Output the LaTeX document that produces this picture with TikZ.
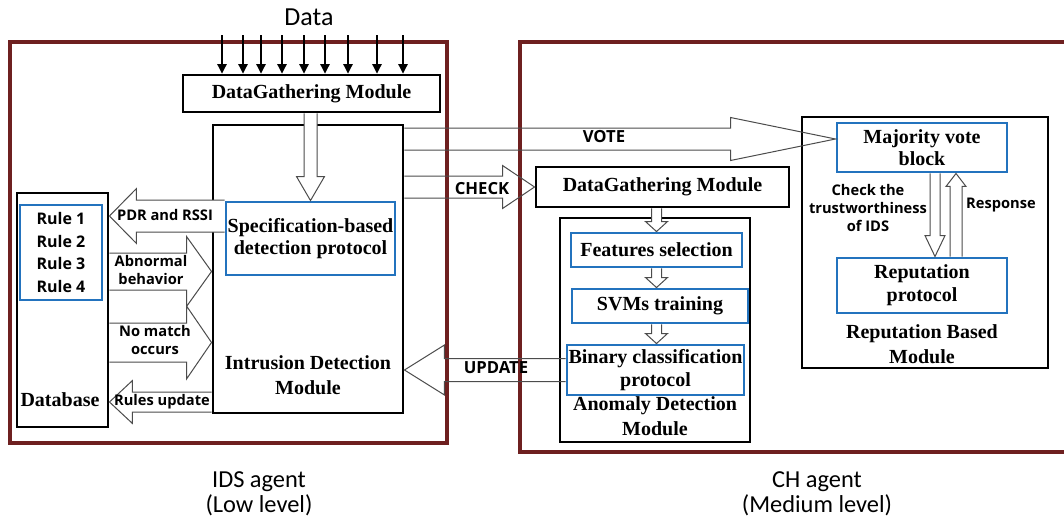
\documentclass[tikz,border=0pt]{standalone}
\usepackage{fontspec}
\setmainfont{Liberation Serif}
\newfontfamily\labfont{Open Sans}
\newfontfamily\calfont{Carlito}
\usetikzlibrary{calc,arrows.meta}
\definecolor{frameRed}{RGB}{110,32,32}
\definecolor{boxblue}{RGB}{35,115,190}
\newcommand\harr[6][]{%
  \path[barrow,draw=none,#1] ($(#2)+(0,#4)$) -- ($(#3)+(#6,#4)$) -- ($(#3)+(#6,#5)$) -- (#3) -- ($(#3)+(#6,-#5)$) -- ($(#3)+(#6,-#4)$) -- ($(#2)+(0,-#4)$) -- cycle;
  \draw[barrow,fill=none] ($(#2)+(0,#4)$) -- ($(#3)+(#6,#4)$) -- ($(#3)+(#6,#5)$) -- (#3) -- ($(#3)+(#6,-#5)$) -- ($(#3)+(#6,-#4)$) -- ($(#2)+(0,-#4)$);}
\newcommand\varr[6][]{%
  \path[barrow,draw=none,#1] ($(#2)+(#4,0)$) -- ($(#3)+(#4,#6)$) -- ($(#3)+(#5,#6)$) -- (#3) -- ($(#3)+(-#5,#6)$) -- ($(#3)+(-#4,#6)$) -- ($(#2)+(-#4,0)$) -- cycle;
  \draw[barrow,fill=none] ($(#2)+(#4,0)$) -- ($(#3)+(#4,#6)$) -- ($(#3)+(#5,#6)$) -- (#3) -- ($(#3)+(-#5,#6)$) -- ($(#3)+(-#4,#6)$) -- ($(#2)+(-#4,0)$);}
\begin{document}
\begin{tikzpicture}[x=0.75pt,y=-0.75pt,
  sz/.style 2 args={minimum width=#1*0.75pt,minimum height=#2*0.75pt},
  blk/.style={draw=black,line width=2.2pt,fill=white,inner sep=0pt},
  blu/.style={draw=boxblue,line width=2.2pt,fill=white,inner sep=0pt},
  mod/.style={font=\fontsize{15}{17}\selectfont\bfseries,align=center},
  modw/.style={font=\fontsize{15}{18.5}\selectfont\bfseries,align=center},
  lab/.style={font=\labfont\fontsize{11}{13.8}\selectfont\bfseries,align=center},
  big/.style={font=\labfont\fontsize{12.5}{15}\selectfont\bfseries},
  barrow/.style={draw=black!70,line width=0.75pt,fill=white,line join=miter},
  frame/.style={draw=frameRed,line width=3.2pt,inner sep=0pt},
  dataarr/.style={draw=black,line width=0.8pt,-{Triangle[width=7pt,length=7pt]}},
  agent/.style={font=\calfont\fontsize{18.3}{18.5}\selectfont,align=center}
]
\useasboundingbox (0,0) rectangle (1064,521);

% agent frames
\node[frame,sz={437}{401}] (idsframe) at (228.5,242.5) {};
\node[frame,sz={555}{410}] (chframe) at (797.5,247) {};

% IDS agent modules
\node[blk,sz={257}{37},mod] (dg1) at (311.5,93.5) {DataGathering Module};
\node[blk,sz={190}{288}] (idm) at (308,269) {};
\node[blu,sz={169}{73},mod] (spec) at (310.5,238.5) {Specification-based\\detection protocol};
\node[blk,sz={91}{234}] (db) at (62.5,310) {};
\node[blu,sz={82}{95},font=\labfont\fontsize{12}{17}\selectfont\bfseries,align=center] (rules) at (61,252.5) {Rule 1\\Rule 2\\Rule 3\\Rule 4};
\node[mod] (dbt) at (60,400) {Database};
\node[modw] (idmt) at (308,375) {Intrusion Detection\\Module};

% CH agent modules
\node[blk,sz={253}{40},mod] (dg2) at (662.5,187) {DataGathering Module};
\node[blk,sz={190}{224}] (adm) at (655,330) {};
\node[blu,sz={171}{34},mod] (feat) at (656.5,250) {Features selection};
\node[blu,sz={176}{34},mod] (svm) at (660,306) {SVMs training};
\node[blu,sz={177}{50},mod] (bin) at (655.5,370) {Binary classification\\protocol};
\node[modw] (admt) at (655,416) {Anomaly Detection\\Module};

\node[blk,sz={246}{251}] (rbm) at (925,242.5) {};
\node[blu,sz={170}{49},mod] (maj) at (922,147.5) {Majority vote\\block};
\node[blu,sz={170}{55},mod] (rep) at (922,285.5) {Reputation\\protocol};
\node[modw] (rbmt) at (922,344) {Reputation Based\\Module};

% data input arrows
\node[font=\calfont\fontsize{19.5}{20}\selectfont] (data) at (309,17) {Data};
\foreach \xx in {222,243,261,282,304,325,348,377,403} {
  \coordinate (dt) at (\xx,35);
  \draw[dataarr] (dt) -- (dt |- dg1.north);
}

% block arrows
\coordinate (a1t) at (spec.north |- dg1.south);
\varr{a1t}{spec.north}{6.5}{14}{-24}
\coordinate (yP) at (0,216);
\harr{spec.west |- yP}{db.east |- yP}{16}{27.5}{27}
\coordinate (yA) at (0,271.5);
\harr{db.east |- yA}{idm.west |- yA}{18.5}{35}{-25}
\coordinate (yN) at (0,342.5);
\harr{db.east |- yN}{idm.west |- yN}{19.5}{36.5}{-25}
\coordinate (yR) at (0,402);
\harr{idm.west |- yR}{db.east |- yR}{10}{21.5}{23}
\coordinate (yV) at (0,139);
\harr[fill=none]{idm.east |- yV}{maj.west |- yV}{11}{21.5}{-105}
\harr[fill=none]{idm.east |- dg2.west}{dg2.west}{11}{21.5}{-32}
\harr[fill=none]{bin.west}{idm.east |- bin.west}{11.5}{25}{40}
\varr{feat.north |- dg2.south}{feat.north}{5}{11}{-10}
\varr{feat.south}{feat.south |- svm.north}{5}{11}{-10}
\varr{feat.south |- svm.south}{feat.south |- bin.north}{5}{11}{-10}
\coordinate (xD) at (935,0);
\coordinate (xU) at (956,0);
\varr{xD |- maj.south}{xD |- rep.north}{5}{10}{-21}
\varr{xU |- rep.north}{xU |- maj.south}{6}{10}{13}

% arrow labels
\node[lab] (pdr) at (165,215) {PDR and RSSI};
\node[lab] (abn) at (151,270) {Abnormal\\behavior};
\node[lab] (nom) at (155,340) {No match\\occurs};
\node[lab] (rup) at (162,402) {Rules update};
\node[big] (vote) at (604,137) {VOTE};
\node[big] (check) at (482,189) {CHECK};
\node[big] (upd) at (496,368) {UPDATE};
\node[lab] (chk) at (868,208) {Check the\\trustworthiness\\of IDS};
\node[lab] (resp) at (1001,205) {Response};

% agent captions
\node[agent] (idsl) at (259,494) {IDS agent\\(Low level)};
\node[agent] (chl) at (817,494) {CH agent\\(Medium level)};
\end{tikzpicture}
\end{document}
